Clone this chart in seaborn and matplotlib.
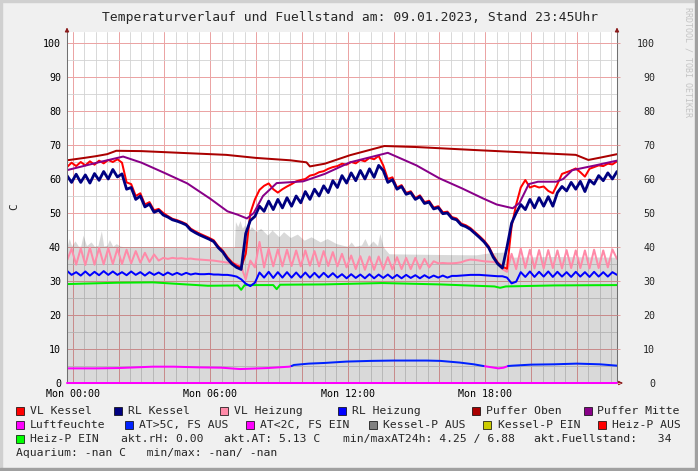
import numpy as np
import matplotlib
matplotlib.use('Agg')
import matplotlib.pyplot as plt
from matplotlib.patches import Rectangle
from matplotlib.ticker import FixedLocator, MultipleLocator
import seaborn as sns

# hours relative to Mon 00:00, window 23:45 (Sun) .. 23:45 (Mon), 12 min samples
t_12min = np.arange(121) * 0.2 - 0.25

vl_kessel = [
    63.5, 64.8, 63.8, 65.0, 64.0, 65.2, 64.2, 65.4, 64.6, 65.6,
    65.0, 65.8, 64.8, 59.0, 58.5, 55.0, 55.8, 52.5, 53.2, 50.8,
    51.2, 50.0, 49.1, 48.3, 47.9, 47.4, 46.8, 45.4, 44.6, 43.9,
    43.3, 42.7, 42.0, 40.2, 38.9, 37.0, 35.5, 34.5, 34.0, 38.0,
    50.0, 54.0, 56.8, 58.0, 58.7, 57.0, 56.0, 57.0, 57.8, 58.5,
    59.3, 59.7, 60.0, 61.0, 61.3, 62.0, 62.3, 63.0, 63.5, 63.8,
    64.5, 64.2, 65.0, 64.6, 65.6, 65.2, 66.2, 65.8, 66.8, 64.0,
    60.0, 60.5, 57.5, 58.2, 55.9, 56.4, 54.4, 55.2, 53.2, 53.6,
    51.6, 52.0, 50.2, 50.4, 48.8, 48.4, 46.9, 46.4, 45.6, 44.4,
    43.2, 41.9, 40.2, 37.5, 35.4, 34.2, 33.6, 46.0, 52.5, 57.5,
    59.7, 57.5, 58.0, 57.5, 57.8, 56.5, 55.8, 58.5, 61.5, 62.0,
    62.5, 63.1, 62.0, 60.7, 63.0, 63.5, 64.0, 63.8, 64.5, 64.3,
    65.2]

rl_kessel = [
    61.0, 59.0, 61.4, 59.0, 61.2, 58.8, 61.6, 59.6, 62.2, 60.0,
    62.8, 60.6, 61.5, 57.0, 57.5, 54.0, 55.0, 51.8, 52.6, 50.2,
    50.8, 49.4, 48.8, 48.0, 47.6, 47.1, 46.5, 45.0, 44.2, 43.5,
    42.9, 42.3, 41.6, 39.8, 38.5, 36.5, 35.0, 34.0, 33.4, 44.0,
    47.8, 49.0, 52.0, 50.5, 53.5, 51.0, 54.0, 51.5, 54.5, 52.0,
    55.0, 53.0, 56.3, 54.0, 57.0, 55.0, 58.0, 56.0, 59.5, 57.5,
    61.0, 58.8, 61.8, 59.5, 62.5, 60.0, 63.0, 60.5, 64.0, 62.5,
    59.0, 59.8, 57.0, 57.8, 55.5, 56.0, 54.0, 54.8, 52.8, 53.2,
    51.2, 51.6, 49.8, 50.0, 48.4, 48.0, 46.5, 46.0, 45.2, 44.0,
    42.8, 41.5, 39.8, 37.0, 35.0, 33.8, 40.0, 47.0, 50.0, 52.5,
    51.0, 54.0, 51.5, 54.5, 52.0, 54.8, 52.0, 56.0, 57.8, 56.5,
    59.0, 57.0, 59.3, 56.3, 59.7, 58.5, 61.0, 59.5, 61.8, 60.0,
    62.2]

vl_heizung = [
    36.0, 39.5, 34.8, 39.6, 34.7, 39.8, 34.8, 39.7, 34.9, 39.6,
    35.0, 39.5, 35.0, 39.2, 35.2, 38.8, 35.4, 38.3, 35.6, 37.8,
    36.0, 36.8, 36.5, 36.8, 36.6, 36.7, 36.5, 36.6, 36.4, 36.3,
    36.2, 36.1, 36.0, 35.8, 35.6, 35.4, 35.2, 35.0, 34.2, 30.5,
    36.0, 34.0, 41.5, 34.0, 39.5, 34.3, 39.3, 34.3, 39.2, 34.4,
    39.0, 34.3, 39.0, 34.5, 38.8, 34.3, 38.8, 34.4, 38.5, 34.3,
    38.0, 34.0, 37.5, 33.5, 37.3, 33.3, 37.2, 33.3, 37.2, 33.4,
    37.0, 33.4, 37.0, 33.5, 36.8, 33.5, 36.8, 33.6, 36.5, 34.0,
    35.8, 35.2, 35.3, 35.2, 35.2, 35.3, 35.5, 36.0, 36.3, 36.2,
    36.0, 35.8, 35.7, 35.6, 35.2, 33.5, 32.7, 38.0, 33.5, 39.5,
    33.8, 39.2, 33.7, 39.1, 33.7, 39.1, 33.8, 39.0, 33.7, 39.1,
    33.8, 39.0, 33.8, 39.0, 33.7, 39.2, 33.8, 39.0, 34.0, 39.3,
    36.5]

rl_heizung = [
    33.0, 31.8, 32.6, 31.6, 32.8, 31.6, 32.7, 31.7, 32.9, 31.8,
    32.8, 31.8, 32.6, 31.7, 32.8, 31.8, 32.6, 31.6, 32.6, 31.8,
    32.5, 31.7, 32.5, 31.8, 32.4, 31.8, 32.4, 31.9, 32.2, 32.0,
    32.0, 32.1, 31.9, 31.9, 31.8, 31.8, 31.6, 31.3, 30.5, 29.2,
    28.5, 29.5, 32.5, 31.0, 32.7, 30.9, 32.6, 31.0, 32.6, 31.0,
    32.5, 31.0, 32.5, 31.0, 32.4, 31.0, 32.4, 31.1, 32.3, 31.0,
    32.0, 30.8, 32.0, 30.9, 31.9, 30.8, 32.0, 30.8, 31.9, 30.9,
    31.9, 30.8, 31.8, 30.8, 31.8, 30.9, 31.7, 30.8, 31.7, 30.9,
    31.6, 31.0, 31.6, 31.0, 31.5, 31.5, 31.6, 31.7, 31.8, 31.8,
    31.8, 31.7, 31.6, 31.5, 31.4, 31.4, 31.0, 29.3, 29.8, 32.6,
    31.2, 32.8, 31.2, 32.7, 31.3, 32.8, 31.2, 32.7, 31.3, 32.6,
    31.2, 32.7, 31.3, 32.6, 31.2, 32.7, 31.3, 32.6, 31.3, 32.6,
    31.8]

puffer_oben_t = [-0.25, 0.5, 1.0, 1.5, 1.9, 3.0, 5.0, 6.7, 8.0, 9.5, 10.2,
                 10.35, 11.0, 12.1, 13.6, 15.0, 17.6, 21.95, 22.5, 23.1, 23.75]
puffer_oben = [65.5, 66.2, 66.7, 67.3, 68.3, 68.2, 67.6, 67.1, 66.2, 65.5, 64.9,
               63.7, 64.5, 67.0, 69.7, 69.4, 68.5, 67.1, 65.6, 66.4, 67.3]

puffer_mitte_t = [-0.25, 1.0, 2.2, 3.0, 4.0, 5.0, 6.0, 6.75, 7.2, 7.6, 7.9, 8.3,
                  8.9, 10.05, 11.0, 12.1, 13.75, 15.0, 16.0, 17.0, 17.9, 18.5,
                  19.2, 19.5, 19.9, 20.3, 21.1, 21.4, 21.8, 22.8, 23.75]
puffer_mitte = [62.6, 64.7, 66.6, 64.8, 61.8, 58.7, 54.2, 50.5, 49.5, 48.4, 50.0, 55.0,
                58.8, 59.3, 61.5, 64.9, 67.7, 64.0, 60.2, 57.2, 54.3, 52.5,
                51.4, 53.0, 58.5, 59.2, 59.2, 60.0, 62.6, 64.0, 65.4]

heizp_ein_t = [-0.25, 2.0, 3.5, 5.9, 7.2, 7.35, 7.5, 8.75, 8.9, 9.05, 11.0, 13.5,
               16.0, 18.4, 18.65, 18.9, 21.0, 23.75]
heizp_ein = [29.1, 29.5, 29.6, 28.6, 28.7, 27.4, 28.8, 28.8, 27.6, 28.9, 29.0, 29.4,
             29.0, 28.4, 28.0, 28.4, 28.7, 28.8]

kesselp_aus_t = [-0.25, -0.15, -0.05, 0.1, 0.25, 0.35, 0.45, 0.6, 0.8, 0.95,
                 1.1, 1.25, 1.35, 1.5, 1.6, 1.75, 1.9, 2.05, 2.2, 3.0,
                 5.0, 7.05, 7.1, 7.2, 7.3, 7.4, 7.5, 7.6, 7.8, 8.0,
                 8.2, 8.5, 8.7, 9.0, 9.2, 9.5, 9.8, 10.1, 10.4, 10.8,
                 11.1, 11.5, 11.8, 12.0, 12.15, 12.3, 12.6, 12.75, 12.9, 13.1,
                 13.3, 13.4, 13.55, 13.8, 16.0, 17.6, 18.2, 18.8, 19.1, 21.0,
                 23.75]
kesselp_aus = [40.2, 42.5, 40.3, 41.8, 40.2, 40.3, 43.5, 40.4, 41.5, 40.2,
               40.5, 44.8, 40.3, 40.5, 42.2, 40.2, 41.0, 40.3, 40.1, 40.1,
               40.0, 40.0, 47.5, 46.0, 47.8, 45.5, 46.5, 44.0, 46.0, 44.5,
               45.5, 43.5, 45.0, 43.0, 44.5, 42.8, 43.8, 42.0, 43.0, 41.5,
               42.5, 41.0, 40.5, 40.2, 41.5, 40.2, 40.6, 42.5, 40.3, 41.8,
               40.4, 44.0, 40.0, 38.0, 37.8, 37.7, 38.3, 38.5, 37.0, 37.2,
               37.0]

aussen_t = [-0.25, 1.0, 2.0, 3.5, 4.4, 5.5, 6.5, 7.3, 8.5, 9.45, 9.55, 9.65, 10.3,
            11.0, 11.95, 13.0, 14.0, 15.45, 16.05, 16.9, 17.5, 17.92, 18.3, 18.57,
            18.8, 19.0, 19.2, 20.0, 21.0, 22.0, 23.0, 23.75]
aussen = [4.3, 4.3, 4.4, 4.8, 4.8, 4.6, 4.5, 4.1, 4.4, 4.8, 5.0, 5.3, 5.7,
          5.9, 6.3, 6.5, 6.6, 6.6, 6.5, 6.0, 5.5, 5.0, 4.6, 4.3,
          4.5, 5.0, 5.1, 5.4, 5.5, 5.7, 5.5, 5.1]

luftfeuchte_t = [-0.25, 23.75]
luftfeuchte = [0.0, 0.0]

x_hours = list(range(0, 24, 2))
x_labels = ['Mon %02d:00' % h if h % 6 == 0 else '' for h in x_hours]

legend_rows = [
    [('VL Kessel', '#ff0000'), ('RL Kessel', '#000080'), ('VL Heizung', '#ff8aa8'),
     ('RL Heizung', '#0000ff'), ('Puffer Oben', '#aa0000'), ('Puffer Mitte', '#880088')],
    [('Luftfeuchte', '#ff00ff'), ('AT>5C, FS AUS', '#0022ff'), ('AT<2C, FS EIN', '#ff00ff'),
     ('Kessel-P AUS', '#808080'), ('Kessel-P EIN', '#cccc00'), ('Heiz-P AUS', '#ff0000')],
    [('Heiz-P EIN', '#00ff00')],
]
legend_swatch_x = [[20, 118, 224, 342, 476, 588], [20, 129, 250, 373, 487, 602], [20]]
legend_text_x = [[30, 128, 234, 352, 486, 597], [30, 139, 260, 383, 498, 612], [30]]
legend_y = [411, 425, 439]
info_texts = [('akt.rH: 0.00', 121, 439), ('akt.AT: 5.13 C', 224, 439),
              ('min/maxAT24h: 4.25 / 6.88', 343, 439), ('akt.Fuellstand:   34', 534, 439),
              ('Aquarium: -nan C   min/max: -nan/ -nan', 16, 453)]

W, H = 698, 471
sns.set_theme(style='white')
plt.rcParams['font.family'] = ['DejaVu Sans Mono', 'DejaVu Sans']

fig = plt.figure(figsize=(W / 100, H / 100), dpi=100, facecolor='#f0f0f0')
ax = fig.add_axes([67 / W, 88 / H, 550 / W, 351 / H])
ax.set_facecolor('white')

ax.fill_between(kesselp_aus_t, kesselp_aus, color='black', alpha=0.15, linewidth=0, zorder=1)

px = 0.72  # one pixel in points
sns.lineplot(x=heizp_ein_t, y=heizp_ein, color='#00ee00', linewidth=2 * px, ax=ax, errorbar=None)
sns.lineplot(x=t_12min, y=rl_heizung, color='#0000ff', linewidth=2 * px, ax=ax, errorbar=None)
sns.lineplot(x=t_12min, y=vl_heizung, color='#ff8aa8', linewidth=2 * px, ax=ax, errorbar=None)
sns.lineplot(x=t_12min, y=vl_kessel, color='#ff0000', linewidth=2 * px, ax=ax, errorbar=None)
sns.lineplot(x=t_12min, y=rl_kessel, color='#000080', linewidth=2.8 * px, ax=ax, errorbar=None)
sns.lineplot(x=puffer_oben_t, y=puffer_oben, color='#aa0000', linewidth=2 * px, ax=ax, errorbar=None)
sns.lineplot(x=puffer_mitte_t, y=puffer_mitte, color='#880088', linewidth=2 * px, ax=ax, errorbar=None)

at = np.array(aussen)
ax.plot(aussen_t, np.where(at <= 5.0, at, np.nan), color='#ff00ff', linewidth=2 * px)
ax.plot(aussen_t, np.where(at >= 5.0, at, np.nan), color='#0022ff', linewidth=2 * px)
ax.plot(luftfeuchte_t, luftfeuchte, color='#ff00ff', linewidth=2 * px, clip_on=False, zorder=5)

ax.set_xlim(-0.25, 23.75)
ax.set_ylim(0, 351 / 3.4)
ax.set_xlabel('')
ax.set_ylabel('')
ax.xaxis.set_major_locator(FixedLocator(x_hours))
ax.set_xticklabels(x_labels)
ax.xaxis.set_minor_locator(MultipleLocator(0.5))
ax.yaxis.set_major_locator(MultipleLocator(10))
ax.yaxis.set_minor_locator(MultipleLocator(5))
ax.set_axisbelow(True)
ax.grid(which='minor', color='#d2d2d2', linewidth=0.6)
ax.grid(which='major', color='#eba4a4', linewidth=0.72)
ax.tick_params(which='both', length=0)
ax.tick_params(axis='x', labelsize=7.2, pad=4.0, colors='black')
ax.tick_params(axis='y', labelsize=7.2, pad=4.3, colors='black')

for side in ['left', 'right', 'bottom']:
    ax.spines[side].set_color('#707070')
    ax.spines[side].set_linewidth(0.75)
ax.spines['top'].set_visible(False)

ax2 = ax.twinx()
ax2.set_ylim(ax.get_ylim())
y_vals = list(range(0, 101, 10))
ax2.set_yticks(y_vals)
ax2.set_yticklabels([str(v) for v in y_vals], ha='right')
ax2.tick_params(axis='y', labelsize=7.2, length=2.2, width=0.72, color='#e6a0a0', pad=25.3)
ax2.grid(False)
for side in ax2.spines:
    ax2.spines[side].set_visible(False)

arrow = dict(arrowstyle='-|>', color='#8b1a1a', lw=0.75, mutation_scale=6, shrinkA=0, shrinkB=0)
ax.annotate('', xy=(0, 1.013), xytext=(0, 1.0), xycoords='axes fraction', arrowprops=arrow)
ax.annotate('', xy=(1, 1.013), xytext=(1, 1.0), xycoords='axes fraction', arrowprops=arrow)
ax.annotate('', xy=(1.011, 0), xytext=(1.0, 0), xycoords='axes fraction', arrowprops=arrow)

fig.text(350 / W, 1 - 17 / H, 'Temperaturverlauf und Fuellstand am: 09.01.2023, Stand 23:45Uhr',
         fontsize=9.4, ha='center', va='center')
fig.text(14 / W, 1 - 207 / H, 'C', fontsize=8, rotation=90, ha='center', va='center')
fig.text(688 / W, 1 - 62 / H, 'RRDTOOL / TOBI OETIKER', fontsize=6, rotation=270,
         color='#c4c4c4', ha='center', va='center')

for row, sx_row, tx_row, ry in zip(legend_rows, legend_swatch_x, legend_text_x, legend_y):
    for (label, col), sx, tx in zip(row, sx_row, tx_row):
        fig.add_artist(Rectangle(((sx - 4) / W, 1 - (ry + 4) / H), 8 / W, 8 / H,
                                 facecolor=col, edgecolor='black', linewidth=0.5,
                                 transform=fig.transFigure))
        fig.text(tx / W, 1 - ry / H, label, fontsize=8.2, ha='left', va='center')
for label, tx, ry in info_texts:
    fig.text(tx / W, 1 - ry / H, label, fontsize=8.2, ha='left', va='center')

# 3d-ish frame
fig.add_artist(Rectangle((0, 1 - 2 / H), 1, 2 / H, color='#d0d0d0', transform=fig.transFigure))
fig.add_artist(Rectangle((0, 0), 2 / W, 1, color='#d0d0d0', transform=fig.transFigure))
fig.add_artist(Rectangle((0, 0), 1, 3 / H, color='#a0a0a0', transform=fig.transFigure))
fig.add_artist(Rectangle((1 - 3 / W, 0), 3 / W, 1, color='#a0a0a0', transform=fig.transFigure))

fig.savefig('out.png', dpi=100, facecolor=fig.get_facecolor())
